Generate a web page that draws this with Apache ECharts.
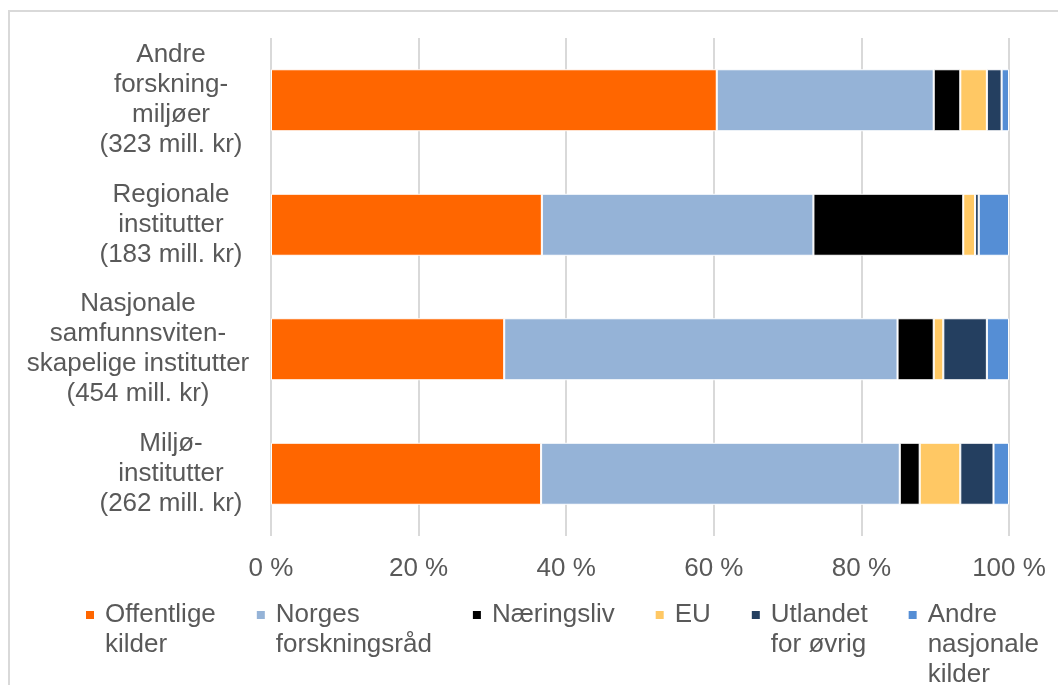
<!DOCTYPE html>
<html>
<head>
<meta charset="utf-8">
<script src="https://cdn.jsdelivr.net/npm/echarts@6/dist/echarts.min.js"></script>
<style>
html,body{margin:0;padding:0;background:#fff;}
#chart{width:1058px;height:685px;}
</style>
</head>
<body>
<div id="chart"></div>
<script>
const categories = [
  "Andre\nforskning-\nmiljøer\n(323 mill. kr)",
  "Regionale\ninstitutter\n(183 mill. kr)",
  "Nasjonale\nsamfunnsviten-\nskapelige institutter\n(454 mill. kr)",
  "Miljø-\ninstitutter\n(262 mill. kr)"
];
const seriesNames = ["Offentlige\nkilder", "Norges\nforskningsråd", "Næringsliv", "EU", "Utlandet\nfor øvrig", "Andre\nnasjonale\nkilder"];
const offentlige = [60.4, 36.7, 31.6, 36.6];
const forskningsraad = [29.4, 36.8, 53.3, 48.6];
const naeringsliv = [3.6, 20.3, 4.9, 2.7];
const eu = [3.6, 1.6, 1.3, 5.5];
const utlandet = [2.0, 0.5, 5.9, 4.5];
const andre = [1.0, 4.1, 3.0, 2.1];
const xTicks = ["0 %", "20 %", "40 %", "60 %", "80 %", "100 %"];

const colors = ["#FF6600", "#95B3D7", "#000000", "#FFC864", "#243F60", "#558ED5"];
const values = [offentlige, forskningsraad, naeringsliv, eu, utlandet, andre];

const chart = echarts.init(document.getElementById('chart'));
const font = "'Liberation Sans', Arial, sans-serif";
const FS = 26;
const LH = 30;

const yData = categories.map((c, i) => {
  if (i === 2) return { value: c, textStyle: { align: 'center', padding: [0, 66, 0, 0] } };
  return c;
});

chart.setOption({
  animation: false,
  graphic: [{
    type: 'rect',
    shape: { x: 9, y: 11, width: 1060, height: 700 },
    style: { fill: 'none', stroke: '#D9D9D9', lineWidth: 2 },
    silent: true
  }],
  legend: {
    top: 535,
    left: 79,
    itemWidth: 10,
    itemHeight: 10,
    itemGap: 39,
    icon: 'rect',
    formatter: (name) => '\n'.repeat(name.split('\n').length - 1) + name,
    textStyle: { fontFamily: font, fontSize: FS, color: '#595959', lineHeight: LH, padding: [0, 0, 0, 5] },
    align: 'left',
    data: seriesNames
  },
  grid: { left: 271, right: 49, top: 38, height: 498, outerBoundsMode: 'none', containLabel: false },
  xAxis: {
    type: 'value',
    min: 0, max: 100, interval: 20,
    axisLine: { show: false },
    axisTick: { show: false },
    splitLine: { lineStyle: { color: '#D9D9D9', width: 2 } },
    axisLabel: {
      fontFamily: font, fontSize: FS, color: '#595959', margin: 20,
      formatter: (v) => xTicks[Math.round(v / 20)]
    }
  },
  yAxis: {
    type: 'category',
    inverse: true,
    data: yData,
    axisLine: { show: false },
    axisTick: { show: false },
    axisLabel: {
      fontFamily: font, fontSize: FS, color: '#595959', lineHeight: LH,
      align: 'center', margin: 100
    }
  },
  series: values.map((d, i) => ({
    name: seriesNames[i],
    type: 'bar',
    stack: 'total',
    barWidth: 62,
    data: d,
    itemStyle: { color: colors[i], borderColor: '#ffffff', borderWidth: 1 }
  }))
});
</script>
</body>
</html>
